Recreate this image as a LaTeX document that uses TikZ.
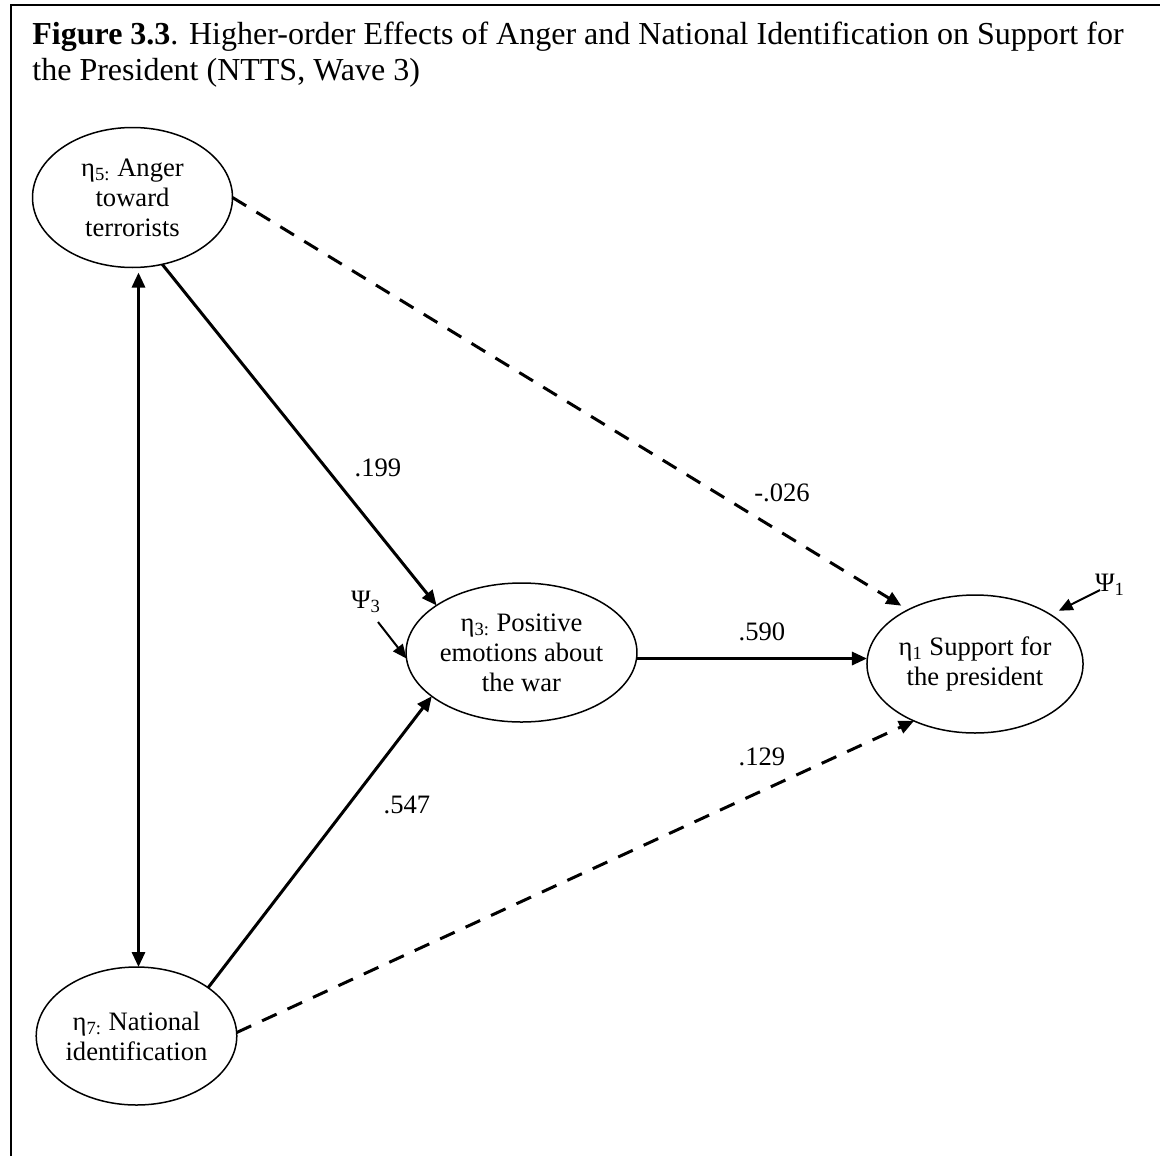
\documentclass[tikz,border=0pt]{standalone}
\usepackage{fontspec}
\setmainfont{Liberation Serif}
\usetikzlibrary{arrows.meta,shapes.geometric}

\begin{document}
\begin{tikzpicture}[x=0.5pt,y=-0.5pt,
  latent/.style={draw, ellipse, line width=0.75pt, inner sep=0pt, outer sep=0pt,
    align=center, font=\fontsize{13.3}{15}\selectfont},
  coef/.style={font=\fontsize{13.3}{15}\selectfont, inner sep=1pt},
  effect/.style={line width=1.5pt, -{Triangle[length=7.5pt,width=6.5pt]}},
  covar/.style={line width=1.5pt, {Triangle[length=7.5pt,width=6.5pt]}-{Triangle[length=7.5pt,width=6.5pt]}},
  weak/.style={effect, dash pattern=on 8pt off 6pt},
  resid/.style={line width=1pt, -{Triangle[length=7pt,width=6pt]}},
  caption/.style={anchor=base west, inner sep=0pt, font=\fontsize{16}{18}\selectfont}
]
% canvas and frame
\fill[white] (0,0) rectangle (1160,1156);
\useasboundingbox (0,0) rectangle (1160,1156);
\draw[line width=1pt] (11,1156) -- (11,5) -- (1160,5);

% caption
\node[caption] (title1) at (32,45) {\textbf{Figure 3.3}. Higher-order Effects of Anger and National Identification on Support for};
\node[caption] (title2) at (32,81) {the President (NTTS, Wave 3)};

% latent variables
\node[latent, minimum width=100pt, minimum height=70pt] (a5) at (132.5,197.5)
  {η\textsubscript{5:} Anger\\toward\\terrorists};
\node[latent, minimum width=98.5pt, minimum height=69pt] (a7) at (136.5,1036)
  {η\textsubscript{7:} National\\identification};
\node[latent, minimum width=95.5pt, minimum height=69.5pt] (a3) at (521.5,652.5)
  {η\textsubscript{3:} Positive\\emotions about\\the war};
\node[latent, minimum width=92pt, minimum height=69pt] (a1) at (975,664)
  {η\textsubscript{1} Support for\\the president};

% disturbances
\node[coef] (psi3) at (366,602) {Ψ\textsubscript{3}};
\node[coef] (psi1) at (1110,585) {Ψ\textsubscript{1}};
\coordinate (psi3tail) at (378,622);
\coordinate (psi1tail) at (1100,590);

% paths
\draw[effect] (a5.-66) -- (a3.151);
\draw[weak, shorten >=4pt] (a5.0) -- (a1.141);
\draw[covar] ([xshift=3pt,yshift=-2.5pt]a5.south) -- ([xshift=1pt]a7.north);
\draw[effect] (a7.34) -- (a3.206);
\draw[weak] (a7.2) -- (a1.223);
\draw[effect] (a3.-3) -- (a3.-3 -| a1.west);
\draw[resid] (psi3tail) -- (a3.183);
\draw[resid, shorten >=4.5pt] (psi1tail) -- (a1.33);

% coefficients
\node[coef] (c199) at (378,468) {.199};
\node[coef] (c026) at (782,493) {-.026};
\node[coef] (c590) at (762,632) {.590};
\node[coef] (c547) at (407,805) {.547};
\node[coef] (c129) at (762,757) {.129};
\end{tikzpicture}
\end{document}
